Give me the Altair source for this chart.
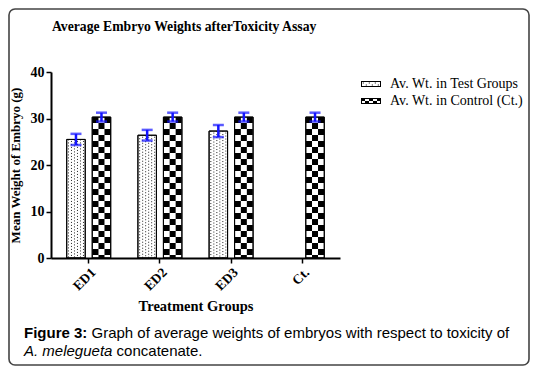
import altair as alt
import pandas as pd

# ---- data ----
groups = ["ED1", "ED2", "ED3", "Ct."]
test_means = [25.5, 26.4, 27.3, None]
test_err = [1.2, 1.15, 1.3, None]
ctrl_means = [30.3, 30.3, 30.3, 30.3]
ctrl_err = [0.95, 0.95, 0.95, 0.95]
series_names = ["Av. Wt. in Test Groups", "Av. Wt. in Control (Ct.)"]
y_ticks = [0, 10, 20, 30, 40]

rows = []
for g, m, e in zip(groups, test_means, test_err):
    if m is not None:
        rows.append({"cat": g, "series": series_names[0], "value": m,
                     "lo": m - e, "hi": m + e, "base": 0})
test_df = pd.DataFrame(rows)
rows = []
for g, m, e in zip(groups, ctrl_means, ctrl_err):
    rows.append({"cat": g, "series": series_names[1], "value": m,
                 "lo": m - e, "hi": m + e, "base": 0})
ctrl_df = pd.DataFrame(rows)
all_df = pd.concat([test_df, ctrl_df], ignore_index=True)

W, H = 289, 186
PAD = {"left": 43, "top": 64, "right": 190, "bottom": 108}
SERIF = "Liberation Serif"
SANS = "Liberation Sans"
BLUE = "#1414ff"
OFF_T, OFF_C = -12.75, 12.75
BAR_W = 18.5

x_axis = alt.Axis(title="Treatment Groups", labelAngle=-45, labelFont=SERIF,
                  labelFontWeight="bold", labelFontSize=13.5, labelColor="black",
                  labelPadding=2, domainColor="black", domainWidth=2,
                  tickColor="black", tickWidth=1.5, tickSize=5,
                  titleFont=SERIF, titleFontWeight="bold", titleFontSize=14.5,
                  titleColor="black", titlePadding=7, zindex=1)
y_axis = alt.Axis(values=y_ticks, grid=False, labelFont=SERIF, labelFontWeight="bold",
                  labelFontSize=14, labelColor="black", labelPadding=2,
                  domainColor="black", domainWidth=2, tickColor="black",
                  tickWidth=1.5, tickSize=5, title="Mean Weight of Embryo (g)",
                  titleFont=SERIF, titleFontWeight="bold", titleFontSize=13,
                  titleColor="black", titlePadding=8, zindex=1)

X = alt.X("cat:N", sort=groups, scale=alt.Scale(domain=groups, paddingInner=0, paddingOuter=0.03),
          axis=x_axis)
YS = alt.Scale(domain=[0, 40], nice=False)


def Y(field):
    return alt.Y(f"{field}:Q", scale=YS, axis=y_axis, title="Mean Weight of Embryo (g)")


layers = []

# figure frame
frame = alt.Chart(pd.DataFrame({"a": [0]})).mark_rect(
    fill="white", stroke="#444", strokeWidth=1.6, cornerRadius=6
).encode(x=alt.value(-PAD["left"] + 1), x2=alt.value(W + PAD["right"] - 1),
         y=alt.value(-PAD["top"] + 1), y2=alt.value(H + PAD["bottom"] - 1))
layers.append(frame)

# legend carrier (invisible points, shape legend with pattern swatches)
def ring():
    return "M-1,-0.3H1V0.3H-1Z M-0.9,-0.2V0.2H0.9V-0.2Z "

checker_path = ring()
for c in range(5):
    for r in range(2):
        if (c + r) % 2 == 0:
            checker_path += f"M{-1 + 0.4 * c:.2f},{-0.3 + 0.3 * r:.2f}h0.4v0.3h-0.4Z "
dots_path = ring()
for k in range(6):
    x0 = -0.82 + 0.3 * k
    for y0 in ([-0.15] if k % 2 == 0 else [0.05]):
        dots_path += f"M{x0:.2f},{y0:.2f}h0.1v0.1h-0.1Z "

legend_pts = alt.Chart(all_df).mark_point(filled=True, color="black", opacity=0).encode(
    x=X, y=Y("value"),
    shape=alt.Shape("series:N", scale=alt.Scale(domain=series_names, range=[dots_path, checker_path]),
                    legend=alt.Legend(title=None, orient="none", legendX=310, legendY=2,
                                      symbolSize=400, symbolOpacity=1, symbolFillColor="black",
                                      symbolStrokeWidth=0, labelFont=SERIF, labelFontSize=14,
                                      labelColor="black", labelOffset=9, rowPadding=0,
                                      padding=0))
)
layers.append(legend_pts)

# bars with white fill
test_bars = alt.Chart(test_df).mark_bar(fill="white", stroke="black", strokeWidth=1,
                                         size=BAR_W, xOffset=OFF_T).encode(x=X, y=Y("value"))
ctrl_bars = alt.Chart(ctrl_df).mark_bar(fill="white", stroke="black", strokeWidth=1,
                                         size=BAR_W, xOffset=OFF_C).encode(x=X, y=Y("value"))
layers += [test_bars, ctrl_bars]

# dotted texture for test bars
for i, dx in enumerate([-7.5, -4.5, -1.5, 1.5, 4.5, 7.5]):
    layers.append(alt.Chart(test_df).mark_rule(
        color="#222", strokeWidth=1, strokeDash=[1, 2], strokeDashOffset=(1.5 if i % 2 else 0),
        xOffset=OFF_T + dx).encode(x=X, y=Y("value"), y2="base:Q"))

# checkerboard texture for control bars
for i, dx in enumerate([-6, 0, 6]):
    layers.append(alt.Chart(ctrl_df).mark_rule(
        color="black", strokeWidth=6, strokeDash=[6, 6], strokeDashOffset=(6 if i % 2 else 0),
        xOffset=OFF_C + dx).encode(x=X, y=Y("value"), y2="base:Q"))

# outlines on top
layers.append(alt.Chart(test_df).mark_bar(fillOpacity=0, stroke="black", strokeWidth=1,
                                          size=BAR_W, xOffset=OFF_T).encode(x=X, y=Y("value")))
layers.append(alt.Chart(ctrl_df).mark_bar(fillOpacity=0, stroke="black", strokeWidth=1,
                                          size=BAR_W, xOffset=OFF_C).encode(x=X, y=Y("value")))

# error bars
for df, off in [(test_df, OFF_T), (ctrl_df, OFF_C)]:
    layers.append(alt.Chart(df).mark_rule(color=BLUE, strokeWidth=2.5, xOffset=off).encode(
        x=X, y=Y("lo"), y2="hi:Q"))
    layers.append(alt.Chart(df).mark_tick(color=BLUE, thickness=2.5, size=11, xOffset=off).encode(
        x=X, y=Y("lo")))
    layers.append(alt.Chart(df).mark_tick(color=BLUE, thickness=2.5, size=11, xOffset=off).encode(
        x=X, y=Y("hi")))

# chart title and caption
one = pd.DataFrame({"a": [0]})
layers.append(alt.Chart(one).mark_text(align="left", baseline="alphabetic", font=SERIF, fontSize=13.7,
                                       fontWeight="bold", color="black").encode(
    x=alt.value(1), y=alt.value(-41),
    text=alt.value("Average Embryo Weights afterToxicity Assay")))
cap_y1, cap_y2 = 261, 279
layers.append(alt.Chart(one).mark_text(align="left", baseline="middle", font=SANS, fontSize=15,
                                       fontWeight="bold", color="black").encode(
    x=alt.value(-27), y=alt.value(cap_y1), text=alt.value("Figure 3:")))
layers.append(alt.Chart(one).mark_text(align="left", baseline="middle", font=SANS, fontSize=15,
                                       color="black").encode(
    x=alt.value(40.5), y=alt.value(cap_y1),
    text=alt.value("Graph of average weights of embryos with respect to toxicity of")))
layers.append(alt.Chart(one).mark_text(align="left", baseline="middle", font=SANS, fontSize=15,
                                       fontStyle="italic", color="black").encode(
    x=alt.value(-27), y=alt.value(cap_y2), text=alt.value("A. melegueta")))
layers.append(alt.Chart(one).mark_text(align="left", baseline="middle", font=SANS, fontSize=15,
                                       color="black").encode(
    x=alt.value(65.6), y=alt.value(cap_y2), text=alt.value("concatenate.")))

chart = alt.layer(*layers).properties(
    width=W, height=H,
    autosize=alt.AutoSizeParams(type="none"),
    padding=PAD,
).resolve_scale(shape="independent").configure_view(stroke=None).configure(background="white")

chart.save("out.html", embed_options={"renderer": "svg", "actions": False})
